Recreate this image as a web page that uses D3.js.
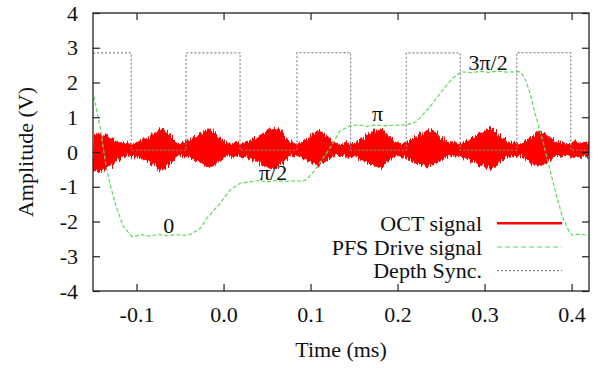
<!DOCTYPE html>
<html>
<head>
<meta charset="utf-8">
<script src="https://cdn.jsdelivr.net/npm/d3@7"></script>
<style>
  body { margin: 0; background: #fff; }
</style>
</head>
<body>
<svg id="chart" width="602" height="368"></svg>
<script>
// ── data ──────────────────────────────────────────────────

const xTickValues = [-0.1, 0.0, 0.1, 0.2, 0.3, 0.4];
const yTickValues = [-4, -3, -2, -1, 0, 1, 2, 3, 4];

// OCT signal: fast oscillation, drawn as its envelope (upper / lower), sampled every 0.005 ms
const octStart = -0.15;
const octStep = 0.005;
const octHi = [
  0.50, 0.52, 0.48, 0.50, 0.42, 0.33, 0.28, 0.22, 0.26, 0.20,
  0.27, 0.30, 0.36, 0.42, 0.52, 0.66, 0.68, 0.55, 0.42, 0.30,
  0.24, 0.28, 0.32, 0.40, 0.46, 0.55, 0.60, 0.64, 0.55, 0.42,
  0.32, 0.25, 0.21, 0.27, 0.22, 0.26, 0.30, 0.38, 0.45, 0.52,
  0.60, 0.70, 0.72, 0.58, 0.45, 0.34, 0.26, 0.22, 0.28, 0.36,
  0.44, 0.55, 0.63, 0.56, 0.44, 0.32, 0.25, 0.21, 0.28, 0.22,
  0.25, 0.32, 0.40, 0.48, 0.56, 0.62, 0.68, 0.58, 0.45, 0.34,
  0.26, 0.22, 0.27, 0.33, 0.40, 0.48, 0.55, 0.60, 0.64, 0.55,
  0.42, 0.32, 0.25, 0.28, 0.22, 0.26, 0.32, 0.40, 0.48, 0.55,
  0.62, 0.68, 0.66, 0.52, 0.40, 0.30, 0.24, 0.28, 0.22, 0.30,
  0.38, 0.46, 0.55, 0.63, 0.56, 0.42, 0.32, 0.25, 0.29, 0.22,
  0.26, 0.30, 0.23, 0.28, 0.25
];
const octLo = [
  -0.55, -0.52, -0.56, -0.50, -0.40, -0.30, -0.20, -0.12, -0.08, -0.14,
  -0.10, -0.16, -0.22, -0.30, -0.40, -0.50, -0.52, -0.40, -0.28, -0.16,
  -0.10, -0.14, -0.12, -0.20, -0.26, -0.34, -0.40, -0.44, -0.36, -0.24,
  -0.14, -0.08, -0.13, -0.09, -0.14, -0.12, -0.18, -0.24, -0.30, -0.36,
  -0.42, -0.48, -0.46, -0.36, -0.24, -0.14, -0.09, -0.13, -0.16, -0.22,
  -0.28, -0.34, -0.38, -0.32, -0.22, -0.14, -0.08, -0.13, -0.10, -0.14,
  -0.10, -0.17, -0.24, -0.30, -0.36, -0.40, -0.44, -0.36, -0.24, -0.14,
  -0.09, -0.13, -0.16, -0.22, -0.28, -0.33, -0.38, -0.40, -0.40, -0.34,
  -0.24, -0.14, -0.08, -0.12, -0.10, -0.15, -0.20, -0.26, -0.32, -0.38,
  -0.42, -0.44, -0.44, -0.34, -0.22, -0.14, -0.09, -0.14, -0.10, -0.17,
  -0.24, -0.30, -0.38, -0.44, -0.36, -0.24, -0.14, -0.09, -0.13, -0.10,
  -0.15, -0.11, -0.16, -0.10, -0.14
];

// PFS drive signal
const pfsTime = [
  -0.149, -0.1412, -0.1355, -0.1298, -0.1221, -0.1149, -0.1049, -0.095, -0.085, -0.075,
  -0.065, -0.055, -0.045, -0.038, -0.0267, -0.019, -0.0153, -0.0038, 0.0077, 0.0191,
  0.030, 0.040, 0.050, 0.060, 0.070, 0.080, 0.090, 0.0955, 0.105, 0.1142,
  0.1222, 0.1337, 0.1451, 0.155, 0.165, 0.175, 0.185, 0.195, 0.2101, 0.2215,
  0.2371, 0.2517, 0.2632, 0.2731, 0.285, 0.295, 0.305, 0.315, 0.325, 0.3399,
  0.3456, 0.3513, 0.359, 0.3666, 0.3742, 0.3819, 0.3895, 0.3971, 0.4009, 0.410,
  0.4187
];
const pfsValue = [
  1.60, 0.63, -0.32, -1.00, -1.67, -2.15, -2.44, -2.38, -2.42, -2.37,
  -2.41, -2.38, -2.40, -2.37, -2.20, -1.90, -1.80, -1.47, -1.09, -0.90,
  -0.86, -0.82, -0.86, -0.82, -0.85, -0.83, -0.84, -0.80, -0.52, -0.18,
  0.10, 0.60, 0.75, 0.78, 0.74, 0.78, 0.75, 0.77, 0.78, 0.87,
  1.30, 1.78, 2.12, 2.31, 2.28, 2.32, 2.29, 2.33, 2.30, 2.31,
  2.17, 1.78, 1.02, 0.35, -0.42, -1.19, -1.86, -2.29, -2.39, -2.36,
  -2.40
];

// Depth sync: level held from each time until the next one
const syncTime  = [-0.15, -0.106, -0.043, 0.019, 0.0844, 0.146, 0.210, 0.272, 0.337, 0.399, 0.42];
const syncLevel = [2.85, 0.05, 2.85, 0.05, 2.86, 0.05, 2.85, 0.05, 2.86, 0.05, 0.05];

// phase annotations on the PFS plateaus
const phaseText = ['0', 'π/2', 'π', '3π/2'];
const phaseTime = [-0.063, 0.057, 0.177, 0.304];
const phaseLevel = [-2.33, -0.81, 0.89, 2.36];

const seriesNames = ['OCT signal', 'PFS Drive signal', 'Depth Sync.'];

// ── layout ────────────────────────────────────────────────

const W = 602, H = 368;
const M = { left: 93, right: 13, top: 13, bottom: 77 };
const FS = 22;
const FONT = "'Liberation Serif', 'DejaVu Serif', 'Noto Serif', 'Tinos', 'FreeSerif', 'Nimbus Roman', 'Times New Roman', Times, serif";
const GREEN = '#5fd95f';
const GREY = '#8a8a8a';

const svg = d3.select('#chart').attr('font-family', FONT);

const x = d3.scaleLinear().domain([-0.15, 0.42]).range([M.left, W - M.right]);
const y = d3.scaleLinear().domain([-4, 4]).range([H - M.bottom, M.top]);

const defs = svg.append('defs');
defs.append('clipPath').attr('id', 'plot-clip')
  .append('rect')
  .attr('x', M.left).attr('y', M.top)
  .attr('width', W - M.left - M.right).attr('height', H - M.top - M.bottom);

// rough edges for the envelope, so it reads like a dense oscillation
const rough = defs.append('filter').attr('id', 'rough')
  .attr('x', '-2%').attr('y', '-30%').attr('width', '104%').attr('height', '160%');
rough.append('feTurbulence')
  .attr('type', 'fractalNoise').attr('baseFrequency', '0.7 0.02')
  .attr('numOctaves', 2).attr('seed', 3).attr('result', 'noise');
rough.append('feDisplacementMap')
  .attr('in', 'SourceGraphic').attr('in2', 'noise')
  .attr('scale', 9).attr('xChannelSelector', 'R').attr('yChannelSelector', 'G');

const plot = svg.append('g').attr('clip-path', 'url(#plot-clip)');

// ── OCT signal ────────────────────────────────────────────
const octT = octHi.map((_, i) => octStart + i * octStep);
plot.append('path')
  .datum(octHi.map((v, i) => ({ t: octT[i], hi: v, lo: octLo[i] })))
  .attr('d', d3.area().x(d => x(d.t)).y0(d => y(d.lo)).y1(d => y(d.hi)))
  .attr('fill', '#ff0000')
  .attr('stroke', '#ff0000')
  .attr('stroke-width', 1)
  .attr('filter', 'url(#rough)');

// ── PFS drive ─────────────────────────────────────────────
plot.append('path')
  .datum(pfsTime.map((t, i) => [t, pfsValue[i]]))
  .attr('d', d3.line().x(d => x(d[0])).y(d => y(d[1])))
  .attr('fill', 'none')
  .attr('stroke', GREEN)
  .attr('stroke-width', 1.2)
  .attr('stroke-dasharray', '4,2');

// ── depth sync ────────────────────────────────────────────
plot.append('path')
  .datum(syncTime.map((t, i) => [t, syncLevel[i]]))
  .attr('d', d3.line().curve(d3.curveStepAfter).x(d => x(d[0])).y(d => y(d[1])))
  .attr('fill', 'none')
  .attr('stroke', GREY)
  .attr('stroke-width', 1.2)
  .attr('stroke-dasharray', '2,2');

// ── phase labels ──────────────────────────────────────────
svg.append('g').selectAll('text')
  .data(phaseText)
  .join('text')
  .attr('x', (d, i) => x(phaseTime[i]))
  .attr('y', (d, i) => y(phaseLevel[i]))
  .attr('text-anchor', 'middle')
  .attr('font-size', FS)
  .attr('fill', '#111')
  .text(d => d);

// ── axes ──────────────────────────────────────────────────
const TICK = 7;
const styleAxis = g => {
  g.attr('font-family', FONT);
  g.select('.domain').remove();
  g.selectAll('line').attr('stroke', '#222').attr('stroke-width', 1.2);
  g.selectAll('text').attr('font-size', FS).attr('fill', '#111');
};

svg.append('g')
  .attr('transform', `translate(0,${H - M.bottom})`)
  .call(d3.axisBottom(x).tickValues(xTickValues).tickSize(-TICK).tickPadding(15)
    .tickFormat(d => d.toFixed(1)))
  .call(styleAxis);

svg.append('g')
  .attr('transform', `translate(0,${M.top})`)
  .call(d3.axisTop(x).tickValues(xTickValues).tickSize(-TICK).tickFormat(''))
  .call(styleAxis);

svg.append('g')
  .attr('transform', `translate(${M.left},0)`)
  .call(d3.axisLeft(y).tickValues(yTickValues).tickSize(-TICK).tickPadding(15)
    .tickFormat(d => String(d)))
  .call(styleAxis);

svg.append('g')
  .attr('transform', `translate(${W - M.right},0)`)
  .call(d3.axisRight(y).tickValues(yTickValues).tickSize(-TICK).tickFormat(''))
  .call(styleAxis);

svg.append('rect')
  .attr('x', M.left).attr('y', M.top)
  .attr('width', W - M.left - M.right).attr('height', H - M.top - M.bottom)
  .attr('fill', 'none')
  .attr('stroke', '#222')
  .attr('stroke-width', 1.3);

// axis titles
svg.append('text')
  .attr('x', (M.left + W - M.right) / 2)
  .attr('y', 357)
  .attr('text-anchor', 'middle')
  .attr('font-size', FS)
  .attr('fill', '#111')
  .text('Time (ms)');

svg.append('text')
  .attr('transform', `translate(33,${(M.top + H - M.bottom) / 2}) rotate(-90)`)
  .attr('text-anchor', 'middle')
  .attr('font-size', FS)
  .attr('fill', '#111')
  .text('Amplitude (V)');

// ── legend ────────────────────────────────────────────────
const legendStyles = [
  { stroke: '#ff0000', width: 2.6, dash: null },
  { stroke: GREEN, width: 1.2, dash: '5,3' },
  { stroke: GREY, width: 1.2, dash: '2,2' },
];
const legend = svg.append('g');
const rows = legend.selectAll('g')
  .data(seriesNames)
  .join('g')
  .attr('transform', (d, i) => `translate(0,${223.3 + i * 23.7})`);

rows.append('text')
  .attr('x', 482)
  .attr('dy', 7.5)
  .attr('text-anchor', 'end')
  .attr('font-size', FS)
  .attr('fill', '#111')
  .text(d => d);

rows.append('line')
  .attr('x1', 497).attr('x2', 562)
  .attr('stroke', (d, i) => legendStyles[i].stroke)
  .attr('stroke-width', (d, i) => legendStyles[i].width)
  .attr('stroke-dasharray', (d, i) => legendStyles[i].dash);
</script>
</body>
</html>
